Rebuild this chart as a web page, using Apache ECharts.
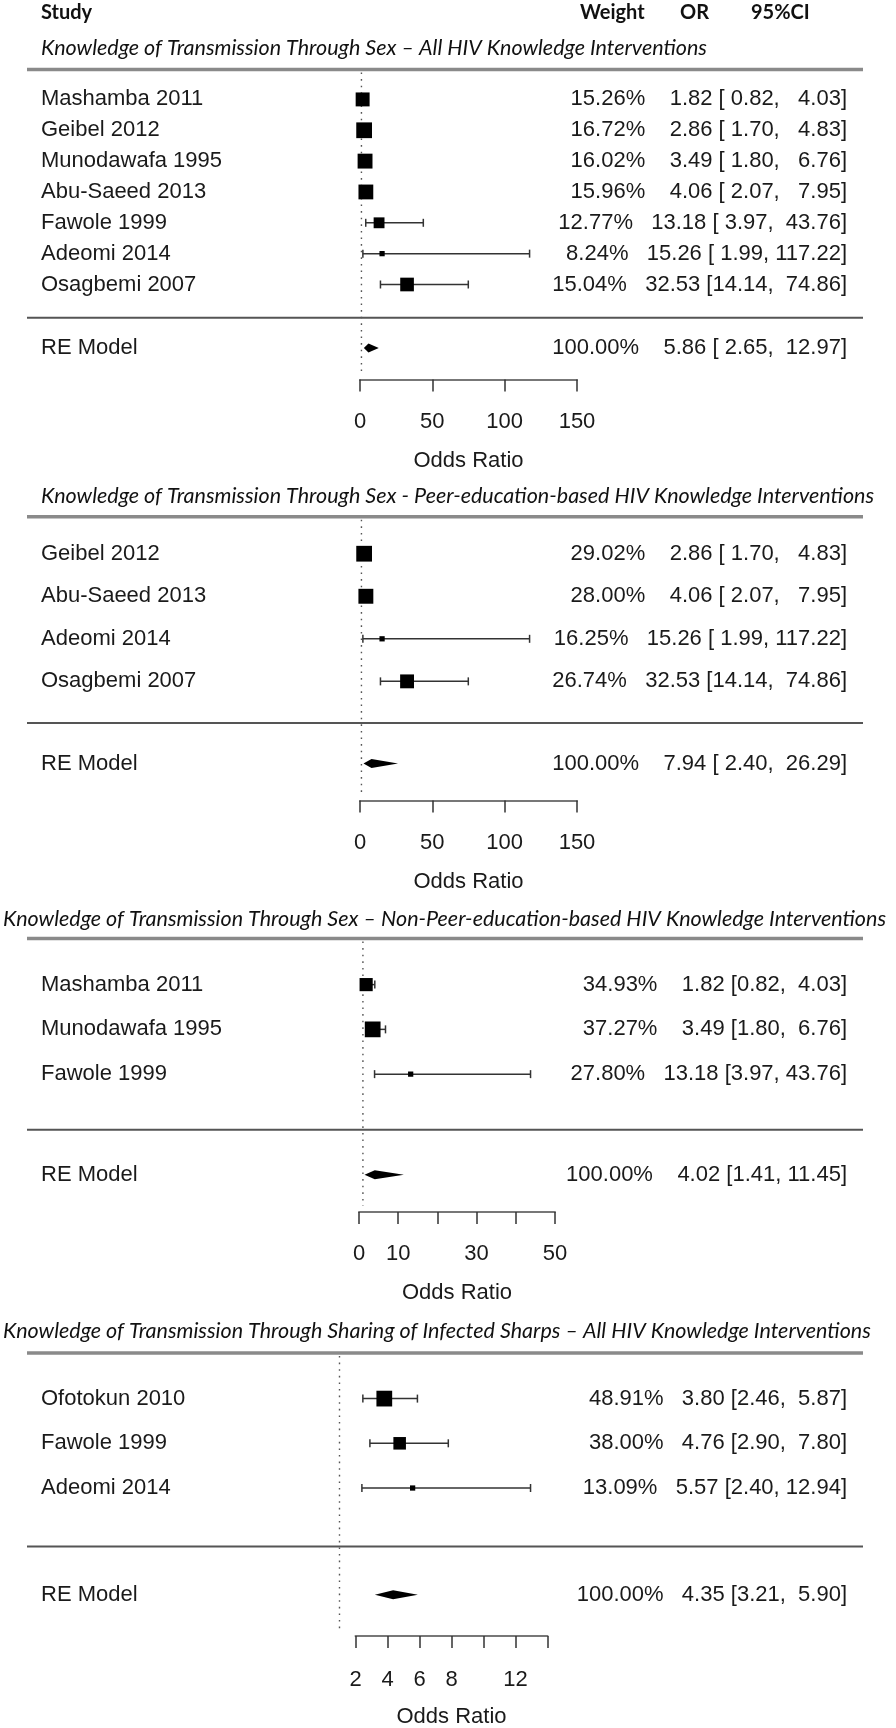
<!DOCTYPE html>
<html>
<head>
<meta charset="utf-8">
<script src="https://cdn.jsdelivr.net/npm/echarts@6/dist/echarts.min.js"></script>
<style>
html,body{margin:0;padding:0;background:#fff;}
#chart{width:896px;height:1728px;}
</style>
</head>
<body>
<div id="chart"></div>
<script>
// ================= DATA =================
const headerLabels = ['Study', 'Weight', 'OR', '95%CI'];
const panelTitles = [
  'Knowledge of Transmission Through Sex \u2013 All HIV Knowledge Interventions',
  'Knowledge of Transmission Through Sex - Peer-education-based HIV Knowledge Interventions',
  'Knowledge of Transmission Through Sex \u2013 Non-Peer-education-based HIV Knowledge Interventions',
  'Knowledge of Transmission Through Sharing of Infected Sharps \u2013 All HIV Knowledge Interventions'
];
const summaryLabel = 'RE Model';
const xAxisName = 'Odds Ratio';
const refValue = 1;

const p1Studies = ['Mashamba 2011', 'Geibel 2012', 'Munodawafa 1995', 'Abu-Saeed 2013', 'Fawole 1999', 'Adeomi 2014', 'Osagbemi 2007'];
const p1Weights = [15.26, 16.72, 16.02, 15.96, 12.77, 8.24, 15.04];
const p1OR      = [1.82, 2.86, 3.49, 4.06, 13.18, 15.26, 32.53];
const p1Lower   = [0.82, 1.70, 1.80, 2.07, 3.97, 1.99, 14.14];
const p1Upper   = [4.03, 4.83, 6.76, 7.95, 43.76, 117.22, 74.86];
const p1RE      = [5.86, 2.65, 12.97]; // OR, lower, upper
const p1TickLabels = [0, 50, 100, 150];

const p2Studies = ['Geibel 2012', 'Abu-Saeed 2013', 'Adeomi 2014', 'Osagbemi 2007'];
const p2Weights = [29.02, 28.00, 16.25, 26.74];
const p2OR      = [2.86, 4.06, 15.26, 32.53];
const p2Lower   = [1.70, 2.07, 1.99, 14.14];
const p2Upper   = [4.83, 7.95, 117.22, 74.86];
const p2RE      = [7.94, 2.40, 26.29];
const p2TickLabels = [0, 50, 100, 150];

const p3Studies = ['Mashamba 2011', 'Munodawafa 1995', 'Fawole 1999'];
const p3Weights = [34.93, 37.27, 27.80];
const p3OR      = [1.82, 3.49, 13.18];
const p3Lower   = [0.82, 1.80, 3.97];
const p3Upper   = [4.03, 6.76, 43.76];
const p3RE      = [4.02, 1.41, 11.45];
const p3TickLabels = [0, 10, 30, 50];

const p4Studies = ['Ofotokun 2010', 'Fawole 1999', 'Adeomi 2014'];
const p4Weights = [48.91, 38.00, 13.09];
const p4OR      = [3.80, 4.76, 5.57];
const p4Lower   = [2.46, 2.90, 2.40];
const p4Upper   = [5.87, 7.80, 12.94];
const p4RE      = [4.35, 3.21, 5.90];
const p4TickLabels = [2, 4, 6, 8, 12];

// ================= LAYOUT (styling only) =================
const layout = [
  {top: 69.5,  height: 310,   left: 360,   width: 217, yMin: -2.08, yMax: 7.97, sepRow: -0.08, reRow: -1.06, titleX: 41, titleY: 48,    xMin: 0, xMax: 150, xInt: 50, labelMargin: 31},
  {top: 516.7, height: 283.8, left: 360,   width: 217, yMin: -1.80, yMax: 4.87, sepRow: 0.02,  reRow: -0.93, titleX: 41, titleY: 496.5, xMin: 0, xMax: 150, xInt: 50, labelMargin: 31},
  {top: 938.5, height: 273.5, left: 359,   width: 196, yMin: -2.08, yMax: 4.03, sepRow: -0.24, reRow: -1.25, titleX: 3,  titleY: 919.5, xMin: 0, xMax: 50,  xInt: 10, labelMargin: 31},
  {top: 1353,  height: 283,   left: 355.5, width: 192, yMin: -2.31, yMax: 4.02, sepRow: -0.31, reRow: -1.39, titleX: 3,  titleY: 1331.5, xMin: 2, xMax: 14, xInt: 2, labelMargin: 33}
];

const panels = [
  {studies: p1Studies, w: p1Weights, or: p1OR, lo: p1Lower, hi: p1Upper, re: p1RE, ticks: p1TickLabels},
  {studies: p2Studies, w: p2Weights, or: p2OR, lo: p2Lower, hi: p2Upper, re: p2RE, ticks: p2TickLabels},
  {studies: p3Studies, w: p3Weights, or: p3OR, lo: p3Lower, hi: p3Upper, re: p3RE, ticks: p3TickLabels},
  {studies: p4Studies, w: p4Weights, or: p4OR, lo: p4Lower, hi: p4Upper, re: p4RE, ticks: p4TickLabels}
];

const FONT = '"Liberation Sans", Arial, sans-serif';
const TEXT_FONT = '22px ' + FONT;
const TEXT_COLOR = '#1a1a1a';
const LABEL_X = 41;       // left edge of study labels
const ANNOT_X = 847;      // right edge of annotation text
const LINE_X1 = 27, LINE_X2 = 863;

// R-like column formatting: fixed 2 decimals, right-padded to common width
function fmtCol(values) {
  const s = values.map(v => v.toFixed(2));
  const w = Math.max(...s.map(x => x.length));
  return s.map(x => ' '.repeat(w - x.length) + x);
}
function buildAnnot(p) {
  const W = fmtCol([...p.w, 100]);
  const Y = fmtCol([...p.or, p.re[0]]);
  const L = fmtCol([...p.lo, p.re[1]]);
  const U = fmtCol([...p.hi, p.re[2]]);
  return W.map((w, i) => w + '%   ' + Y[i] + ' [' + L[i] + ', ' + U[i] + ']');
}

const grids = [], xAxes = [], yAxes = [], series = [], graphics = [];

// header
const headerX = [41, 580, 680, 751];
headerLabels.forEach((t, i) => {
  graphics.push({type: 'text', x: headerX[i], y: 13, style: {text: t, font: 'bold 20px Lato, sans-serif', fill: '#111', verticalAlign: 'middle', align: 'left'}});
});

panels.forEach((p, pi) => {
  const L = layout[pi];
  const k = p.studies.length;
  const annot = buildAnnot(p);
  grids.push({left: L.left, top: L.top, width: L.width, height: L.height, containLabel: false, outerBoundsMode: 'none'});
  xAxes.push({
    type: 'value', gridIndex: pi, min: L.xMin, max: L.xMax, interval: L.xInt,
    axisLine: {show: true, onZero: false, lineStyle: {color: '#777', width: 2}},
    axisTick: {show: true, length: 12, lineStyle: {color: '#333', width: 1.5}},
    splitLine: {show: false},
    axisLabel: {margin: L.labelMargin, fontSize: 22, fontFamily: FONT, color: TEXT_COLOR,
      formatter: v => (p.ticks.indexOf(v) >= 0 ? String(v) : '')},
    name: xAxisName, nameLocation: 'middle', nameGap: 70,
    nameTextStyle: {fontSize: 22, fontFamily: FONT, color: TEXT_COLOR}
  });
  yAxes.push({type: 'value', gridIndex: pi, min: L.yMin, max: L.yMax, show: false});

  graphics.push({type: 'text', x: L.titleX, y: L.titleY,
    style: {text: panelTitles[pi], font: 'italic 21.5px Lato, sans-serif', fill: '#111', verticalAlign: 'middle', align: 'left'}});

  // horizontal rules
  series.push({
    type: 'custom', xAxisIndex: pi, yAxisIndex: pi, clip: false, silent: true, z: 1,
    data: [[L.yMax, 0], [L.sepRow, 1]],
    renderItem: (params, api) => {
      const y = api.coord([L.xMin, api.value(0)])[1];
      const top = api.value(1) === 0;
      return {type: 'line', shape: {x1: LINE_X1, y1: y, x2: LINE_X2, y2: y},
        style: {stroke: top ? '#8a8a8a' : '#555', lineWidth: top ? 3.5 : 2}};
    }
  });
  // dotted reference line at OR = 1
  series.push({
    type: 'custom', xAxisIndex: pi, yAxisIndex: pi, clip: false, silent: true, z: 1,
    data: [[refValue, L.yMax, L.yMin]],
    renderItem: (params, api) => {
      const a = api.coord([api.value(0), api.value(1)]);
      const b = api.coord([api.value(0), api.value(2)]);
      return {type: 'line', shape: {x1: a[0], y1: a[1] + 3, x2: b[0], y2: b[1] - 6},
        style: {stroke: '#555', lineWidth: 1.4, lineDash: [1.6, 5]}};
    }
  });

  // study rows: CI whiskers, labels, annotations
  series.push({
    type: 'custom', xAxisIndex: pi, yAxisIndex: pi, clip: false, silent: true, z: 2,
    data: p.studies.map((s, i) => [p.lo[i], p.hi[i], k - i, i]),
    renderItem: (params, api) => {
      const row = api.value(2);
      const i = api.value(3);
      const a = api.coord([api.value(0), row]);
      const b = api.coord([api.value(1), row]);
      const y = a[1];
      const st = {stroke: '#333', lineWidth: 1.5};
      return {type: 'group', children: [
        {type: 'line', shape: {x1: a[0], y1: y, x2: b[0], y2: y}, style: st},
        {type: 'line', shape: {x1: a[0], y1: y - 4, x2: a[0], y2: y + 4}, style: st},
        {type: 'line', shape: {x1: b[0], y1: y - 4, x2: b[0], y2: y + 4}, style: st},
        {type: 'text', x: LABEL_X, y: y, style: {text: p.studies[i], font: TEXT_FONT, fill: TEXT_COLOR, align: 'left', verticalAlign: 'middle'}},
        {type: 'text', x: ANNOT_X, y: y, style: {text: annot[i], font: TEXT_FONT, fill: TEXT_COLOR, align: 'right', verticalAlign: 'middle'}}
      ]};
    }
  });

  // squares sized by weight (metafor style: 0.5..1.5 scaled)
  const wMin = Math.min(...p.w), wMax = Math.max(...p.w);
  series.push({
    type: 'scatter', xAxisIndex: pi, yAxisIndex: pi, silent: true, z: 3,
    symbol: 'rect',
    symbolSize: val => (0.5 + (val[2] - wMin) / (wMax - wMin)) * 10.5,
    itemStyle: {color: '#000', opacity: 1},
    data: p.or.map((v, i) => [v, k - i, p.w[i]])
  });

  // summary diamond
  series.push({
    type: 'custom', xAxisIndex: pi, yAxisIndex: pi, clip: false, silent: true, z: 3,
    data: [[p.re[0], p.re[1], p.re[2], L.reRow]],
    renderItem: (params, api) => {
      const row = api.value(3);
      const c = api.coord([api.value(0), row]);
      const a = api.coord([api.value(1), row]);
      const b = api.coord([api.value(2), row]);
      const h = 4.5;
      return {type: 'group', children: [
        {type: 'polygon', shape: {points: [[a[0], c[1]], [c[0], c[1] - h], [b[0], c[1]], [c[0], c[1] + h]]}, style: {fill: '#000'}},
        {type: 'text', x: LABEL_X, y: c[1], style: {text: summaryLabel, font: TEXT_FONT, fill: TEXT_COLOR, align: 'left', verticalAlign: 'middle'}},
        {type: 'text', x: ANNOT_X, y: c[1], style: {text: annot[k], font: TEXT_FONT, fill: TEXT_COLOR, align: 'right', verticalAlign: 'middle'}}
      ]};
    }
  });
});

const chart = echarts.init(document.getElementById('chart'), null, {renderer: 'canvas'});
chart.setOption({
  animation: false,
  backgroundColor: '#fff',
  grid: grids,
  xAxis: xAxes,
  yAxis: yAxes,
  series: series,
  graphic: graphics
});
</script>
</body>
</html>
